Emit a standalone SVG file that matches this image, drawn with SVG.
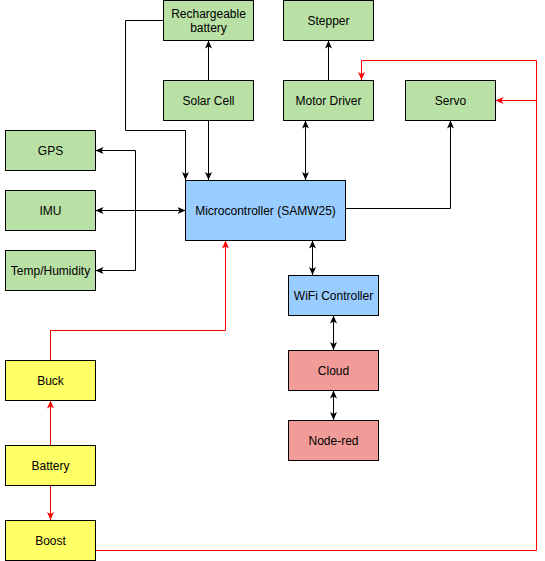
<svg xmlns="http://www.w3.org/2000/svg" width="545" height="561" viewBox="0 0 545 561">
<style>
rect{stroke:#000;stroke-width:1}
.g{fill:#B9E0A5}.b{fill:#99CCFF}.p{fill:#F19C99}.y{fill:#FFFF66}
text{font-family:"Liberation Sans",Arial,sans-serif;font-size:12px;fill:#000;text-anchor:middle;dominant-baseline:central}
.k{fill:none;stroke:#000;stroke-width:1}
.r{fill:none;stroke:#FF0000;stroke-width:1}
</style>
<defs>
<marker id="ak" viewBox="0 0 8 8" refX="8" refY="4" markerWidth="8" markerHeight="8" markerUnits="userSpaceOnUse" orient="auto-start-reverse"><path d="M0,0.5 L8,4 L0,7.5 L2,4 z" fill="#000"/></marker>
<marker id="ar" viewBox="0 0 8 8" refX="8" refY="4" markerWidth="8" markerHeight="8" markerUnits="userSpaceOnUse" orient="auto-start-reverse"><path d="M0,0.5 L8,4 L0,7.5 L2,4 z" fill="#FF0000"/></marker>
</defs>
<g id="connectors">
<path class="k" d="M208.5,80 V40.5" marker-end="url(#ak)"/>
<path class="k" d="M328.5,80 V40.5" marker-end="url(#ak)"/>
<path class="k" d="M163.5,20.5 H125.5 V130.5 H185.5 V180" marker-end="url(#ak)"/>
<path class="k" d="M208.5,120.5 V180" marker-end="url(#ak)"/>
<path class="k" d="M305.5,120.5 V180" marker-start="url(#ak)" marker-end="url(#ak)"/>
<path class="k" d="M345.5,208.5 H450.5 V120.5" marker-end="url(#ak)"/>
<path class="k" d="M95.5,210.5 H185.5" marker-start="url(#ak)" marker-end="url(#ak)"/>
<path class="k" d="M135.5,210.5 V150.5 H95.5" marker-end="url(#ak)"/>
<path class="k" d="M135.5,210.5 V270.5 H95.5" marker-end="url(#ak)"/>
<path class="k" d="M312.5,240.5 V275" marker-start="url(#ak)" marker-end="url(#ak)"/>
<path class="k" d="M333.5,315.5 V350" marker-start="url(#ak)" marker-end="url(#ak)"/>
<path class="k" d="M333.5,390.5 V420" marker-start="url(#ak)" marker-end="url(#ak)"/>
<path class="r" d="M50.5,360 V330.5 H225.5 V240.5" marker-end="url(#ar)"/>
<path class="r" d="M50.5,445 V400.5" marker-end="url(#ar)"/>
<path class="r" d="M50.5,485.5 V520" marker-end="url(#ar)"/>
<path class="r" d="M95.5,550.5 H536.5 V60.5 H361.5 V80" marker-end="url(#ar)"/>
<path class="r" d="M536.5,100.5 H495.5" marker-end="url(#ar)"/>
</g>
<g id="rechargeable-battery"><rect class="g" x="163.5" y="0.5" width="90" height="40"/><text x="208.5" y="13.5">Rechargeable</text><text x="208.5" y="27.5">battery</text></g>
<g id="stepper"><rect class="g" x="283.5" y="0.5" width="90" height="40"/><text x="328.5" y="20.5">Stepper</text></g>
<g id="solar-cell"><rect class="g" x="163.5" y="80.5" width="90" height="40"/><text x="208.5" y="100.5">Solar Cell</text></g>
<g id="motor-driver"><rect class="g" x="283.5" y="80.5" width="90" height="40"/><text x="328.5" y="100.5">Motor Driver</text></g>
<g id="servo"><rect class="g" x="405.5" y="80.5" width="90" height="40"/><text x="450.5" y="100.5">Servo</text></g>
<g id="gps"><rect class="g" x="5.5" y="130.5" width="90" height="40"/><text x="50.5" y="150.5">GPS</text></g>
<g id="imu"><rect class="g" x="5.5" y="190.5" width="90" height="40"/><text x="50.5" y="210.5">IMU</text></g>
<g id="temp-humidity"><rect class="g" x="5.5" y="250.5" width="90" height="40"/><text x="50.5" y="270.5">Temp/Humidity</text></g>
<g id="microcontroller"><rect class="b" x="185.5" y="180.5" width="160" height="60"/><text x="265.5" y="210.5">Microcontroller (SAMW25)</text></g>
<g id="wifi-controller"><rect class="b" x="288.5" y="275.5" width="90" height="40"/><text x="333.5" y="295.5">WiFi Controller</text></g>
<g id="cloud"><rect class="p" x="288.5" y="350.5" width="90" height="40"/><text x="333.5" y="370.5">Cloud</text></g>
<g id="node-red"><rect class="p" x="288.5" y="420.5" width="90" height="40"/><text x="333.5" y="440.5">Node-red</text></g>
<g id="buck"><rect class="y" x="5.5" y="360.5" width="90" height="40"/><text x="50.5" y="380.5">Buck</text></g>
<g id="battery"><rect class="y" x="5.5" y="445.5" width="90" height="40"/><text x="50.5" y="465.5">Battery</text></g>
<g id="boost"><rect class="y" x="5.5" y="520.5" width="90" height="40"/><text x="50.5" y="540.5">Boost</text></g>
</svg>
